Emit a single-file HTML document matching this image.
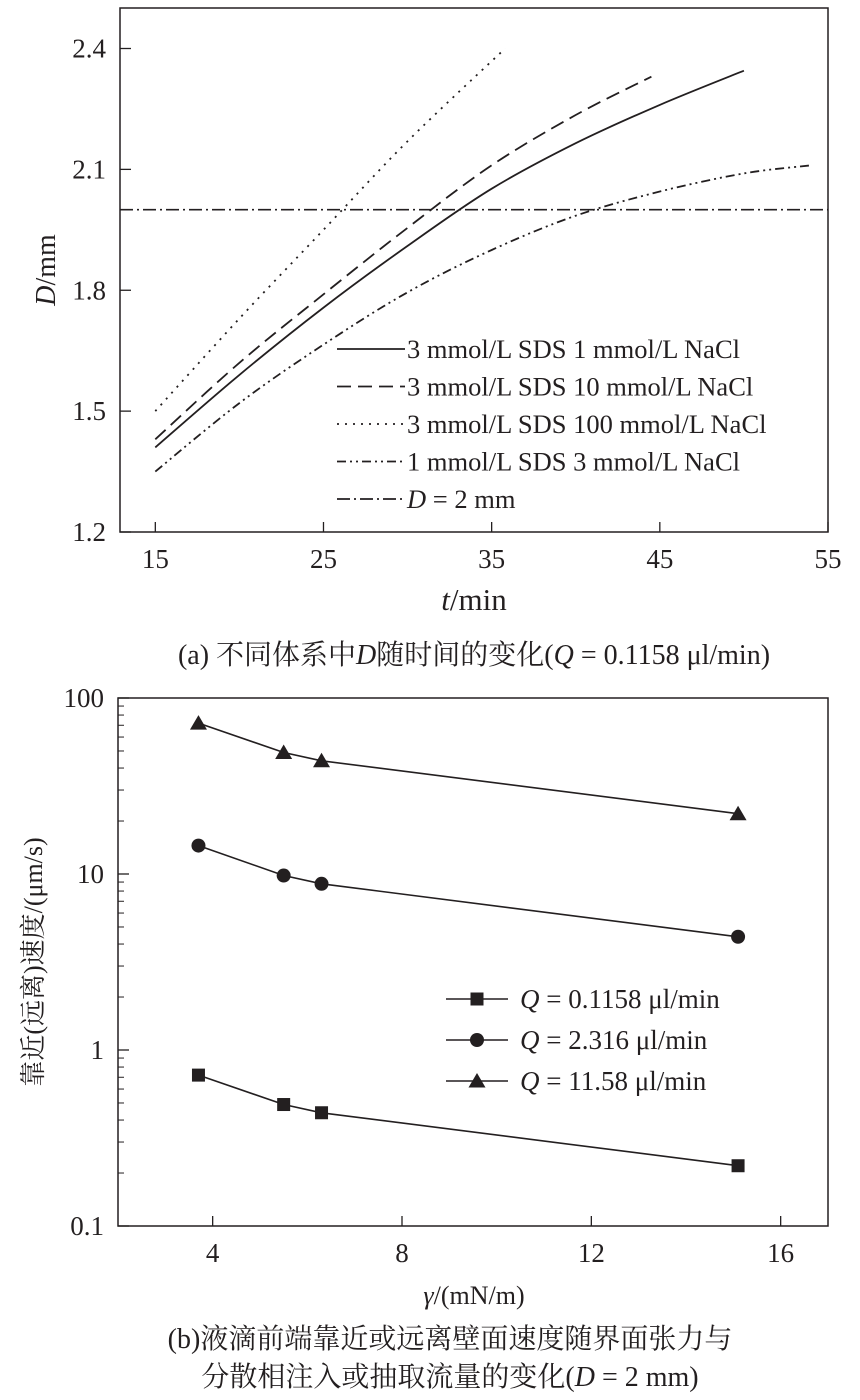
<!DOCTYPE html>
<html><head><meta charset="utf-8"><style>
body{margin:0;background:#fff;width:860px;height:1400px;overflow:hidden}
svg{display:block}
text{font-family:"Liberation Serif","Noto Serif CJK SC","Noto Sans CJK SC",serif;fill:#231f20}
</style></head><body>
<svg id="s" width="860" height="1400"></svg>
<script>
// Chart (a) data
const tA = [15,20,25,30,35,40,45,50];
const solidD = [1.41,1.59,1.757,1.91,2.052,2.165,2.26,2.345];
const dashT = [15,20,25,30,35,40,44.5];
const dashD = [1.43,1.62,1.79,1.955,2.11,2.235,2.33];
const dotT = [15,20,25,30,35.8];
const dotD = [1.50,1.73,1.95,2.17,2.40];
const ddT = [15,20,25,30,35,40,45,50,54];
const ddD = [1.35,1.52,1.665,1.795,1.9,1.985,2.045,2.09,2.11];
const refD = 2.0;
const xTicksA = [15,25,35,45,55];
const yTicksA = [1.2,1.5,1.8,2.1,2.4];
// Chart (b) data
const gamma = [3.7,5.5,6.3,15.1];
const vSq = [0.72,0.49,0.44,0.22];
const vCi = [14.5,9.8,8.8,4.4];
const vTr = [72,49,44,22];
const xTicksB = [4,8,12,16];
const yTicksB = [0.1,1,10,100];

const NS="http://www.w3.org/2000/svg", s=document.getElementById('s');
function el(tag,attrs,parent){const e=document.createElementNS(NS,tag);for(const k in attrs)e.setAttribute(k,attrs[k]);(parent||s).appendChild(e);return e;}
function txt(x,y,str,size,anchor,name,parent){const t=el('text',{x:x,y:y,'font-size':size,'text-anchor':anchor||'middle'},parent);t.innerHTML=str;


return t;}

// ---- Chart A
const ax=v=>120+(v-12.9)/(55-12.9)*708;
const ay=v=>532-(v-1.2)/(1.2)*483.5;
const gA=el('g',{});


el('rect',{x:120,y:8,width:708,height:524,fill:'none',stroke:'#231f20','stroke-width':1.5},gA);
xTicksA.forEach(v=>{el('line',{x1:ax(v),x2:ax(v),y1:532,y2:522,stroke:'#231f20','stroke-width':1.3},gA);txt(ax(v),568,v,27,'middle','x-tick-label',gA);});
yTicksA.forEach(v=>{el('line',{x1:120,x2:131,y1:ay(v),y2:ay(v),stroke:'#231f20','stroke-width':1.3},gA);txt(106,ay(v)+9,v.toFixed(1),27,'end','y-tick-label',gA);});
txt(474,610,'<tspan font-style="italic">t</tspan>/min',31,'middle','x-axis-title',gA);
const yt=txt(0,0,'<tspan font-style="italic">D</tspan>/mm',28,'middle','y-axis-title',gA);yt.setAttribute('transform','translate(55,270) rotate(-90)');
function smooth(xs,ys){const n=Math.min(xs.length,ys.length);const P=[];for(let i=0;i<n;i++)P.push([ax(xs[i]),ay(ys[i])]);
 let d='M'+P[0][0].toFixed(1)+','+P[0][1].toFixed(1);
 for(let i=0;i<n-1;i++){const p0=P[Math.max(i-1,0)],p1=P[i],p2=P[i+1],p3=P[Math.min(i+2,n-1)];
  const c1=[p1[0]+(p2[0]-p0[0])/6,p1[1]+(p2[1]-p0[1])/6],c2=[p2[0]-(p3[0]-p1[0])/6,p2[1]-(p3[1]-p1[1])/6];
  d+='C'+c1.map(v=>v.toFixed(1))+' '+c2.map(v=>v.toFixed(1))+' '+p2.map(v=>v.toFixed(1));}
 return d;}
function series(xs,ys,dash,name){const p=el('path',{d:smooth(xs,ys),fill:'none',stroke:'#231f20','stroke-width':1.8,'stroke-dasharray':dash},gA);

}
series(tA,solidD,'none','line-1mmol-nacl');
series(dashT,dashD,'14,7','line-10mmol-nacl');
series(dotT,dotD,'2,6','line-100mmol-nacl');
series(ddT,ddD,'9,4,2,4,2,4','line-1mmol-sds');
const rl=el('line',{x1:120,x2:828,y1:ay(refD),y2:ay(refD),stroke:'#231f20','stroke-width':1.6,'stroke-dasharray':'13,4,2,4'},gA);


const legA=[['none','3 mmol/L SDS 1 mmol/L NaCl'],['14,7','3 mmol/L SDS 10 mmol/L NaCl'],['2,6','3 mmol/L SDS 100 mmol/L NaCl'],['9,4,2,4,2,4','1 mmol/L SDS 3 mmol/L NaCl'],['13,4,2,4','<tspan font-style="italic">D</tspan> = 2 mm']];
legA.forEach((l,i)=>{const y=349+i*37.5;el('line',{x1:337,x2:405,y1:y,y2:y,stroke:'#231f20','stroke-width':1.8,'stroke-dasharray':l[0]},gA);txt(407,y+9,l[1],26.5,'start','legend-entry',gA);});
txt(474,664,'(a) 不同体系中<tspan font-style="italic">D</tspan>随时间的变化(<tspan font-style="italic">Q</tspan> = 0.1158 μl/min)',28,'middle','caption-a');

// ---- Chart B
const bx=v=>118+(v-2)/(17-2)*710;
const by=v=>1226-(Math.log10(v)+1)*176;
const gB=el('g',{});


el('rect',{x:118,y:698,width:710,height:528,fill:'none',stroke:'#231f20','stroke-width':1.5},gB);
xTicksB.forEach(v=>{el('line',{x1:bx(v),x2:bx(v),y1:1226,y2:1216,stroke:'#231f20','stroke-width':1.3},gB);txt(bx(v),1262,v,27,'middle','x-tick-label',gB);});
yTicksB.forEach((v,i)=>{el('line',{x1:118,x2:129,y1:by(v),y2:by(v),stroke:'#231f20','stroke-width':1.3},gB);txt(104,by(v)+9,v,27,'end','y-tick-label',gB);
 if(i<3)[2,3,4,5,6,7,8,9].forEach(m=>{const y=by(v*m);el('line',{x1:118,x2:124,y1:y,y2:y,stroke:'#231f20','stroke-width':1},gB);});});
txt(474,1304,'<tspan font-style="italic">γ</tspan>/(mN/m)',26,'middle','x-axis-title',gB);
const yb=txt(0,0,'靠近(远离)速度/(μm/s)',26,'middle','y-axis-title',gB);yb.setAttribute('transform','translate(42,962) rotate(-90)');
function marker(x,y,type,g){if(type==='sq')return el('rect',{x:x-6.5,y:y-6.5,width:13,height:13,fill:'#231f20'},g);
 if(type==='ci')return el('circle',{cx:x,cy:y,r:7,fill:'#231f20'},g);
 return el('path',{d:`M${x},${y-8}L${x+8.5},${y+6.5}L${x-8.5},${y+6.5}Z`,fill:'#231f20'},g);}
[[vSq,'sq','series-q-0.1158'],[vCi,'ci','series-q-2.316'],[vTr,'tr','series-q-11.58']].forEach(([vals,type,name])=>{
 const g=el('g',{},gB);
 
 
 el('path',{d:gamma.map((x,i)=>(i?'L':'M')+bx(x).toFixed(1)+','+by(vals[i]).toFixed(1)).join(''),fill:'none',stroke:'#231f20','stroke-width':1.6},g);
 gamma.forEach((x,i)=>{const m=marker(bx(x),by(vals[i]),type,g);
 
 });});
const legB=[['sq','<tspan font-style="italic">Q</tspan> = 0.1158 μl/min'],['ci','<tspan font-style="italic">Q</tspan> = 2.316 μl/min'],['tr','<tspan font-style="italic">Q</tspan> = 11.58 μl/min']];
legB.forEach((l,i)=>{const y=999+i*41;el('line',{x1:446,x2:508,y1:y,y2:y,stroke:'#231f20','stroke-width':1.6},gB);marker(477,y,l[0],gB);txt(520,y+9,l[1],27,'start','legend-entry',gB);});
txt(450,1348,'(b)液滴前端靠近或远离壁面速度随界面张力与',28,'middle','caption-b-line1');
txt(450,1386,'分散相注入或抽取流量的变化(<tspan font-style="italic">D</tspan> = 2 mm)',28,'middle','caption-b-line2');
</script>
</body></html>
